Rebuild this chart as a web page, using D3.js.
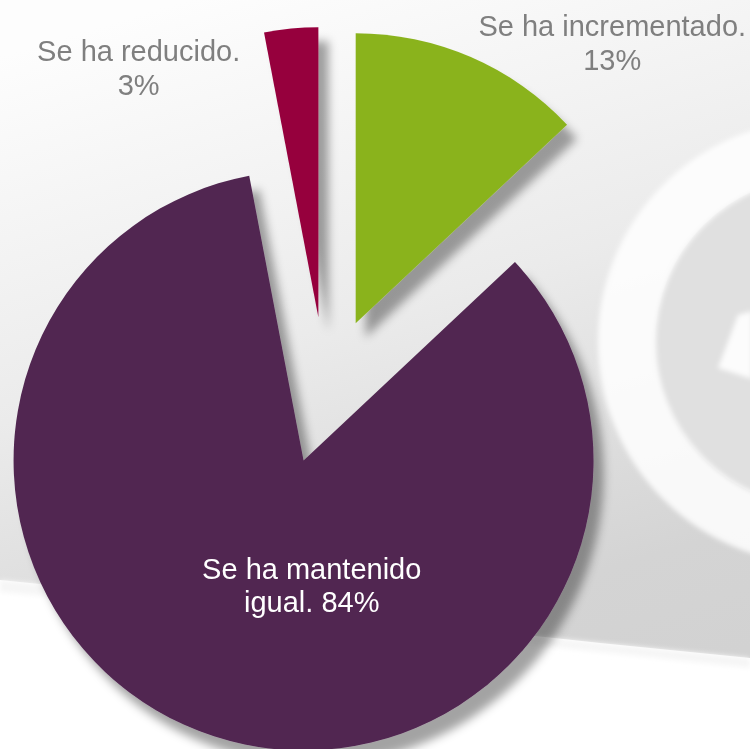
<!DOCTYPE html>
<html>
<head>
<meta charset="utf-8">
<script src="https://cdn.jsdelivr.net/npm/d3@7"></script>
<style>
	html, body { margin: 0; padding: 0; background: #fff; }
	svg { display: block; }
	text { font-family: "Liberation Sans", Arial, sans-serif; }
</style>
</head>
<body>
<svg id="svg" width="750" height="749"></svg>
<script>
// data
const categories = ['Se ha incrementado.', 'Se ha mantenido igual.', 'Se ha reducido.'];
const percents = [13, 84, 3];

// styles / layout
const colors = ['#8ab31f', '#512851', '#96003e'];
const labelColors = ['#7f7f7f', '#ffffff', '#7f7f7f'];
const explode = [76, 71, 76];               // px each slice is pulled out
const labelShift = [[199, -137], [53, -3], [-166, -95]]; // label centre from slice centroid
const wrapWidth = [280, 240, 220];

const W = 750, H = 749, R = 290, cx = 325.5, cy = 393;

const svg = d3.select('#svg');
const defs = svg.append('defs');

/* background */
const bg = defs.append('linearGradient').attr('id', 'bg')
	.attr('x1', 0.25).attr('y1', 0).attr('x2', 0.55).attr('y2', 1);
bg.append('stop').attr('offset', '0%').attr('stop-color', '#fdfdfd');
bg.append('stop').attr('offset', '45%').attr('stop-color', '#ebebeb');
bg.append('stop').attr('offset', '85%').attr('stop-color', '#d4d4d4');
bg.append('stop').attr('offset', '100%').attr('stop-color', '#d2d2d2');

const soft = defs.append('filter').attr('id', 'soft')
	.attr('x', '-20%').attr('y', '-20%').attr('width', '140%').attr('height', '140%');
soft.append('feGaussianBlur').attr('stdDeviation', 2.5);

const shadow = defs.append('filter').attr('id', 'shadow')
	.attr('x', '-20%').attr('y', '-20%').attr('width', '150%').attr('height', '150%');
shadow.append('feDropShadow')
	.attr('dx', 10).attr('dy', 14)
	.attr('stdDeviation', 5)
	.attr('flood-color', '#000')
	.attr('flood-opacity', 0.36);

svg.append('rect').attr('width', W).attr('height', H).attr('fill', '#fff');

const clip = defs.append('clipPath').attr('id', 'band');
clip.append('path').attr('d', 'M0,0 H750 V658 L600,643 C400,622 200,600 0,580 Z');

const back = svg.append('g').attr('clip-path', 'url(#band)');
back.append('rect').attr('width', W).attr('height', H).attr('fill', 'url(#bg)');
// watermark logo on the right
back.append('circle')
	.attr('cx', 820).attr('cy', 342).attr('r', 165)
	.attr('fill', '#e0e0e0');
back.append('circle')
	.attr('cx', 820).attr('cy', 342).attr('r', 193)
	.attr('fill', 'none')
	.attr('stroke', '#ffffff')
	.attr('stroke-opacity', 0.85)
	.attr('stroke-width', 58)
	.attr('filter', 'url(#soft)');
back.append('path')
	.attr('d', 'M738,315 L752,311 L752,379 L718,368 Z')
	.attr('fill', '#fff')
	.attr('fill-opacity', 0.9)
	.attr('filter', 'url(#soft)');
// light strip just above the white band
svg.append('path')
	.attr('d', 'M0,580 C200,600 400,622 600,643 L750,658 V668 L600,652 C400,632 200,610 0,592 Z')
	.attr('fill', '#f6f6f6')
	.attr('filter', 'url(#soft)');

/* pie */
const pie = d3.pie().sort(null).value(d => d.value);
const arc = d3.arc().innerRadius(0).outerRadius(R);

const slices = pie(categories.map((c, i) => ({ name: c, value: percents[i], i: i })));

const offset = d => {
	const a = (d.startAngle + d.endAngle) / 2;
	const k = explode[d.data.i];
	return [cx + k * Math.sin(a), cy - k * Math.cos(a)];
};

svg.append('g')
	.attr('filter', 'url(#shadow)')
	.selectAll('path')
	.data(slices)
	.enter().append('path')
	.attr('transform', d => `translate(${offset(d)})`)
	.attr('d', arc)
	.attr('fill', d => colors[d.data.i]);

/* labels */
function wrap(str, maxW, size) {
	const tmp = svg.append('text').style('font-size', size + 'px');
	const words = str.split(' ');
	const lines = [];
	let line = [];
	words.forEach(w => {
		line.push(w);
		tmp.text(line.join(' '));
		if (tmp.node().getComputedTextLength() > maxW && line.length > 1) {
			line.pop();
			lines.push(line.join(' '));
			line = [w];
		}
	});
	lines.push(line.join(' '));
	tmp.remove();
	return lines;
}

const fontSize = 29, lineH = 33.5;

const labels = svg.append('g').selectAll('text')
	.data(slices)
	.enter().append('text')
	.attr('text-anchor', 'middle')
	.style('font-size', fontSize + 'px')
	.attr('fill', d => labelColors[d.data.i]);

labels.each(function (d) {
	const o = offset(d);
	const c = arc.centroid(d);
	const s = labelShift[d.data.i];
	const x = o[0] + c[0] + s[0];
	const y = o[1] + c[1] + s[1];
	const lines = wrap(`${d.data.name} ${d.data.value}%`, wrapWidth[d.data.i], fontSize);
	const y0 = y - (lines.length - 1) * lineH / 2;
	d3.select(this).selectAll('tspan')
		.data(lines)
		.enter().append('tspan')
		.attr('x', x)
		.attr('y', (l, j) => y0 + j * lineH)
		.text(l => l);
});
</script>
</body>
</html>
